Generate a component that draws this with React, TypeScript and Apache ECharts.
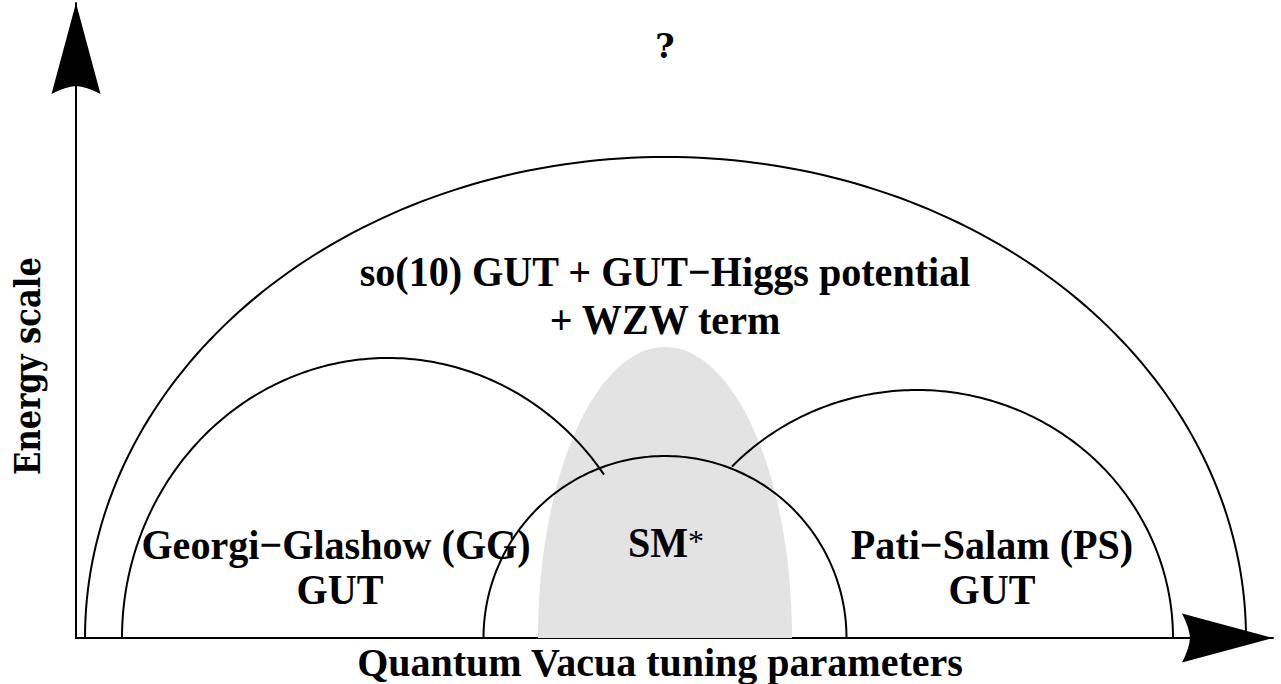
import React, { useEffect, useRef } from "react";
import * as echarts from "echarts";

// Half-ellipse regions (data units: x = horizontal parameter, y = energy above baseline)
const arcNames = ["so(10) GUT", "Georgi-Glashow GUT", "SM", "Pati-Salam GUT"];
const arcCenterX = [665.5, 388, 665, 917];
const arcRadiusX = [580.5, 266, 181.5, 256];
const arcRadiusY = [481, 280, 182, 248];
const arcStartDeg = [0, 35.7, 0, 0];
const arcEndDeg = [180, 180, 180, 136.3];

// Shaded region
const shadeCenterX = [665];
const shadeRadiusX = [127];
const shadeRadiusY = [291];

// Texts
const topMark = "?";
const outerLines = ["so(10) GUT + GUT\u2212Higgs potential", "+ WZW term"];
const ggLines = ["Georgi\u2212Glashow (GG)", "GUT"];
const smText = "SM";
const smStar = "*";
const psLines = ["Pati\u2212Salam (PS)", "GUT"];
const xTitle = "Quantum Vacua tuning parameters";
const yTitle = "Energy scale";

const arrowD = "M0 0 L24.5 91 Q10 83.5 0 83 Q-10 83.5 -24.5 91 Z";
echarts.graphic.registerShape("arrowHead", echarts.graphic.extendPath(arrowD, {}));

const SERIF = '"Liberation Serif", "Times New Roman", serif';
const CENTURY = '"DejaVu Serif", serif';

function txt(text: string, x: number, y: number, size: number, opts: any = {}) {
  return {
    type: "text",
    x,
    y,
    z: 100,
    rotation: opts.rotation || 0,
    scaleX: opts.scaleX || 1,
    scaleY: opts.scaleY || 1,
    style: {
      text,
      fontSize: size,
      fontFamily: opts.family || SERIF,
      fontWeight: opts.weight || "bold",
      fill: "#000",
      align: opts.align || "center",
      verticalAlign: "middle",
      textAlign: opts.align || "center",
      textVerticalAlign: "middle",
    },
  };
}

function ellipsePoints(c: number[], px: number, py: number, t0: number, t1: number) {
  const pts: number[][] = [];
  const n = 160;
  for (let i = 0; i <= n; i++) {
    const t = t1 - ((t1 - t0) * i) / n;
    pts.push([c[0] + px * Math.cos(t), c[1] - py * Math.sin(t)]);
  }
  return pts;
}

const LS = { scaleX: 0.955 };

export default function App() {
  const ref = useRef<HTMLDivElement>(null);
  useEffect(() => {
    if (!ref.current) return;
    const chart = echarts.init(ref.current, null, { renderer: "svg" });
    const arcData = arcCenterX.map((cx, i) => ({
      name: arcNames[i],
      value: [cx, arcRadiusX[i], arcRadiusY[i], arcStartDeg[i], arcEndDeg[i]],
    }));
    const shadeData = shadeCenterX.map((cx, i) => [cx, shadeRadiusX[i], shadeRadiusY[i]]);
    chart.setOption({
      animation: false,
      backgroundColor: "#fff",
      grid: { left: 76, right: 8, top: 3, bottom: 46 },
      xAxis: {
        type: "value",
        min: 76,
        max: 1273,
        axisLine: { show: true, onZero: false, lineStyle: { color: "#000", width: 2 } },
        axisTick: { show: false },
        axisLabel: { show: false },
        splitLine: { show: false },
      },
      yAxis: {
        type: "value",
        min: 0,
        max: 635,
        axisLine: { show: true, onZero: false, lineStyle: { color: "#000", width: 2 } },
        axisTick: { show: false },
        axisLabel: { show: false },
        splitLine: { show: false },
      },
      series: [
        {
          type: "custom",
          name: "shade",
          z: 1,
          data: shadeData,
          encode: { x: 0 },
          renderItem: (params: any, api: any) => {
            const c = api.coord([api.value(0), 0]);
            const s = api.size([api.value(1), api.value(2)]);
            return {
              type: "polygon",
              shape: { points: ellipsePoints(c, s[0], s[1], 0, Math.PI) },
              style: { fill: "#e3e3e3", stroke: "none" },
            };
          },
        },
        {
          type: "custom",
          name: "regions",
          z: 2,
          data: arcData,
          encode: { x: 0 },
          renderItem: (params: any, api: any) => {
            const c = api.coord([api.value(0), 0]);
            const s = api.size([api.value(1), api.value(2)]);
            const t0 = (api.value(3) * Math.PI) / 180;
            const t1 = (api.value(4) * Math.PI) / 180;
            return {
              type: "polyline",
              shape: { points: ellipsePoints(c, s[0], s[1], t0, t1) },
              style: { fill: "none", stroke: "#000", lineWidth: 2 },
            };
          },
        },
      ],
      graphic: [
        { type: "arrowHead", x: 76, y: 3, z: 100, style: { fill: "#000" } },
        { type: "arrowHead", x: 1273, y: 638, rotation: -Math.PI / 2, z: 100, style: { fill: "#000" } },
        txt(topMark, 665, 46, 33, { family: CENTURY }),
        txt(outerLines[0], 665, 272, 42, LS),
        txt(outerLines[1], 665, 320, 42, LS),
        txt(ggLines[0], 336, 545, 42, LS),
        txt(ggLines[1], 340, 590, 42, LS),
        txt(smText, 658, 543, 42, LS),
        txt(smStar, 688, 541, 32, { weight: "normal", align: "left" }),
        txt(psLines[0], 992, 545, 42, LS),
        txt(psLines[1], 992, 590, 42, LS),
        txt(xTitle, 660, 662, 40),
        txt(yTitle, 28, 366, 35, { family: CENTURY, rotation: Math.PI / 2, scaleX: 0.875 }),
      ],
    });
    return () => chart.dispose();
  }, []);
  return (
    <div
      ref={ref}
      style={{ position: "fixed", left: 0, top: 0, width: 1281, height: 684, background: "#fff" }}
    />
  );
}
